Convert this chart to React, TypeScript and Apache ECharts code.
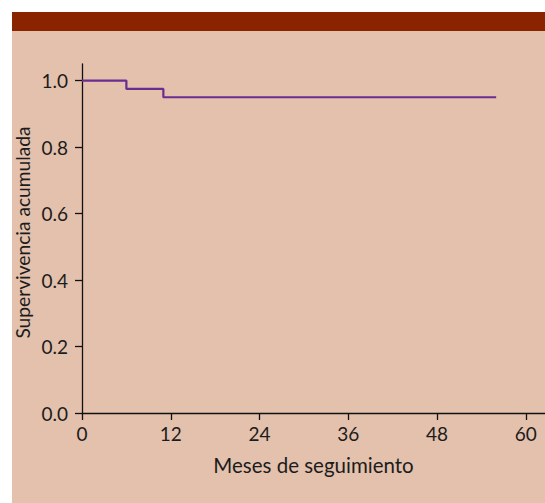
import React, { useEffect, useRef } from "react";
import * as echarts from "echarts";

const months: number[] = [0, 6, 11, 56];
const survival: number[] = [1.0, 0.975, 0.95, 0.95];
const xTicks: number[] = [0, 12, 24, 36, 48, 60];
const yTicks: number[] = [0, 0.2, 0.4, 0.6, 0.8, 1.0];
const xName = "Meses de seguimiento";
const yName = "Supervivencia acumulada";

const FONT = "Lato, 'Open Sans', sans-serif";
const TEXT = "#1c1c1c";

export default function App() {
  const ref = useRef<HTMLDivElement>(null);
  useEffect(() => {
    if (!ref.current) return;
    const chart = echarts.init(ref.current, undefined, { renderer: "svg" });
    chart.setOption({
      animation: false,
      backgroundColor: "#e3c1ad",
      graphic: [
        {
          type: "rect",
          left: 0,
          top: 0,
          shape: { width: 533, height: 19 },
          style: { fill: "#8a2300" },
          silent: true,
        },
      ],
      grid: { left: 70, right: 0, top: 52, bottom: 90, containLabel: false, outerBoundsMode: "none" },
      xAxis: {
        type: "value",
        min: 0,
        max: 62.6,
        splitLine: { show: false },
        axisLine: { show: true, lineStyle: { color: "#111", width: 1.3 } },
        axisTick: { show: true, length: 7, customValues: xTicks, lineStyle: { color: "#111", width: 1.3 } },
        axisLabel: {
          customValues: xTicks,
          margin: 11,
          color: TEXT,
          fontSize: 19,
          fontFamily: FONT,
        },
        name: xName,
        nameLocation: "middle",
        nameGap: 41,
        nameMoveOverlap: false,
        nameTextStyle: { color: TEXT, fontSize: 20.5, fontFamily: FONT },
      },
      yAxis: {
        type: "value",
        min: 0,
        max: 1.05,
        splitLine: { show: false },
        axisLine: { show: true, lineStyle: { color: "#111", width: 1.3 } },
        axisTick: { show: true, length: 7, customValues: yTicks, lineStyle: { color: "#111", width: 1.3 } },
        axisLabel: {
          customValues: yTicks,
          margin: 14,
          color: TEXT,
          fontSize: 19,
          fontFamily: FONT,
          formatter: (v: number) => v.toFixed(1),
        },
        name: yName,
        nameLocation: "middle",
        nameGap: 50,
        nameMoveOverlap: false,
        nameTextStyle: {
          color: TEXT,
          fontSize: 19.2,
          lineHeight: 20,
          fontFamily: FONT,
          padding: [0, 0, 0, 12],
        },
      },
      series: [
        {
          type: "line",
          step: "end",
          data: months.map((m, i) => [m, survival[i]]),
          showSymbol: false,
          symbol: "none",
          lineStyle: { color: "#6b2d90", width: 2.2 },
        },
      ],
    });
    return () => chart.dispose();
  }, []);
  return (
    <div
      ref={ref}
      style={{ position: "absolute", left: 12, top: 12, width: 533, height: 491 }}
    />
  );
}
